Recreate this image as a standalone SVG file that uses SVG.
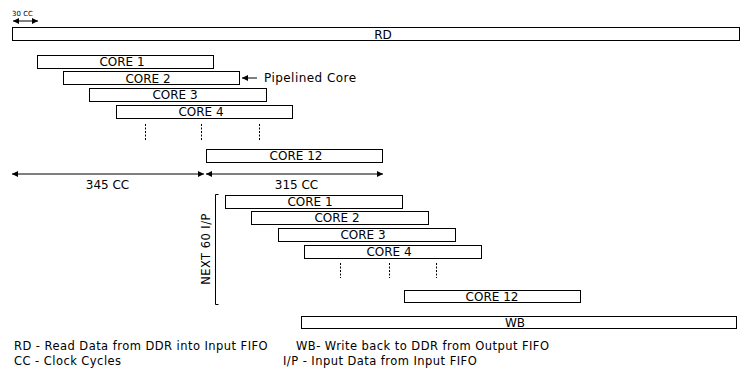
<svg xmlns="http://www.w3.org/2000/svg" width="744" height="370" viewBox="0 0 744 370">
<style>
.box{fill:#fff;stroke:#000;stroke-width:1}
.t{font-family:"DejaVu Sans",sans-serif;font-size:12px;fill:#000}
.lg{font-size:11.5px;letter-spacing:0.45px}
.c{text-anchor:middle}
.ln{stroke:#000;stroke-width:1;fill:none}
.da{stroke:#000;stroke-width:1;stroke-dasharray:2,1.5;fill:none}
</style>
<defs>
<marker id="ah" viewBox="0 0 10 10" refX="10" refY="5" markerWidth="8" markerHeight="6" orient="auto-start-reverse" markerUnits="userSpaceOnUse">
<path d="M0,0 L10,5 L0,10 z" fill="#000"/>
</marker>
</defs>
<rect width="744" height="370" fill="#fff"/>
<g id="scale30">
<text class="t" x="12" y="16" style="font-size:7px">30 CC</text>
<line class="ln" x1="13" y1="21" x2="38" y2="21" marker-start="url(#ah)" marker-end="url(#ah)"/>
</g>
<g id="rd"><rect class="box" x="12.5" y="27.5" width="727" height="13"/><text class="t c" x="383" y="38.5">RD</text></g>
<g id="core1a"><rect class="box" x="37.5" y="55.5" width="176" height="13"/><text class="t c" x="122" y="66">CORE 1</text></g>
<g id="core2a"><rect class="box" x="63.5" y="71.5" width="176" height="13"/><text class="t c" x="148" y="82.5">CORE 2</text></g>
<g id="core3a"><rect class="box" x="89.5" y="88.5" width="177" height="13"/><text class="t c" x="175" y="99">CORE 3</text></g>
<g id="core4a"><rect class="box" x="116.5" y="105.5" width="176" height="13"/><text class="t c" x="201" y="116">CORE 4</text></g>
<g id="core12a"><rect class="box" x="206.5" y="149.5" width="176" height="13"/><text class="t c" x="296" y="160">CORE 12</text></g>
<g id="pipelined"><text class="t" x="264" y="82" style="letter-spacing:0.45px">Pipelined Core</text></g>
<g id="core1b"><rect class="box" x="225.5" y="195.5" width="177" height="13"/><text class="t c" x="310" y="206">CORE 1</text></g>
<g id="core2b"><rect class="box" x="251.5" y="211.5" width="177" height="13"/><text class="t c" x="337" y="222">CORE 2</text></g>
<g id="core3b"><rect class="box" x="278.5" y="228.5" width="177" height="13"/><text class="t c" x="363" y="239">CORE 3</text></g>
<g id="core4b"><rect class="box" x="304.5" y="245.5" width="177" height="13"/><text class="t c" x="389" y="256">CORE 4</text></g>
<g id="core12b"><rect class="box" x="404.5" y="290.5" width="176" height="12"/><text class="t c" x="492" y="300.5">CORE 12</text></g>
<g id="wb"><rect class="box" x="301.5" y="316.5" width="435" height="12"/><text class="t c" x="515" y="326.5">WB</text></g>
<g id="bracket"><path class="ln" d="M218.5,194.5 H215.5 V304.5 H218.5"/>
<text class="t c lg" transform="translate(210,249) rotate(-90)">NEXT 60 I/P</text></g>
<g id="connectors">
<line class="ln" x1="257" y1="78" x2="242" y2="78" marker-end="url(#ah)"/>
<line class="da" x1="145.5" y1="124" x2="145.5" y2="141"/>
<line class="da" x1="201.5" y1="124" x2="201.5" y2="141"/>
<line class="da" x1="259.5" y1="124" x2="259.5" y2="141"/>
<line class="ln" x1="12" y1="174" x2="204" y2="174" marker-start="url(#ah)" marker-end="url(#ah)"/>
<line class="ln" x1="206" y1="174" x2="383" y2="174" marker-start="url(#ah)" marker-end="url(#ah)"/>
<line class="da" x1="340.5" y1="263" x2="340.5" y2="278"/>
<line class="da" x1="389.5" y1="263" x2="389.5" y2="278"/>
<line class="da" x1="436.5" y1="263" x2="436.5" y2="278"/>
</g>
<g id="labels">
<text class="t c" x="107.5" y="188.5">345 CC</text>
<text class="t c" x="296.5" y="188.5">315 CC</text>
<text class="t lg" x="14" y="350">RD - Read Data from DDR into Input FIFO</text>
<text class="t lg" x="14" y="364.5">CC - Clock Cycles</text>
<text class="t lg" x="296" y="350">WB- Write back to DDR from Output FIFO</text>
<text class="t lg" x="283" y="364.5">I/P - Input Data from Input FIFO</text>
</g>
</svg>
